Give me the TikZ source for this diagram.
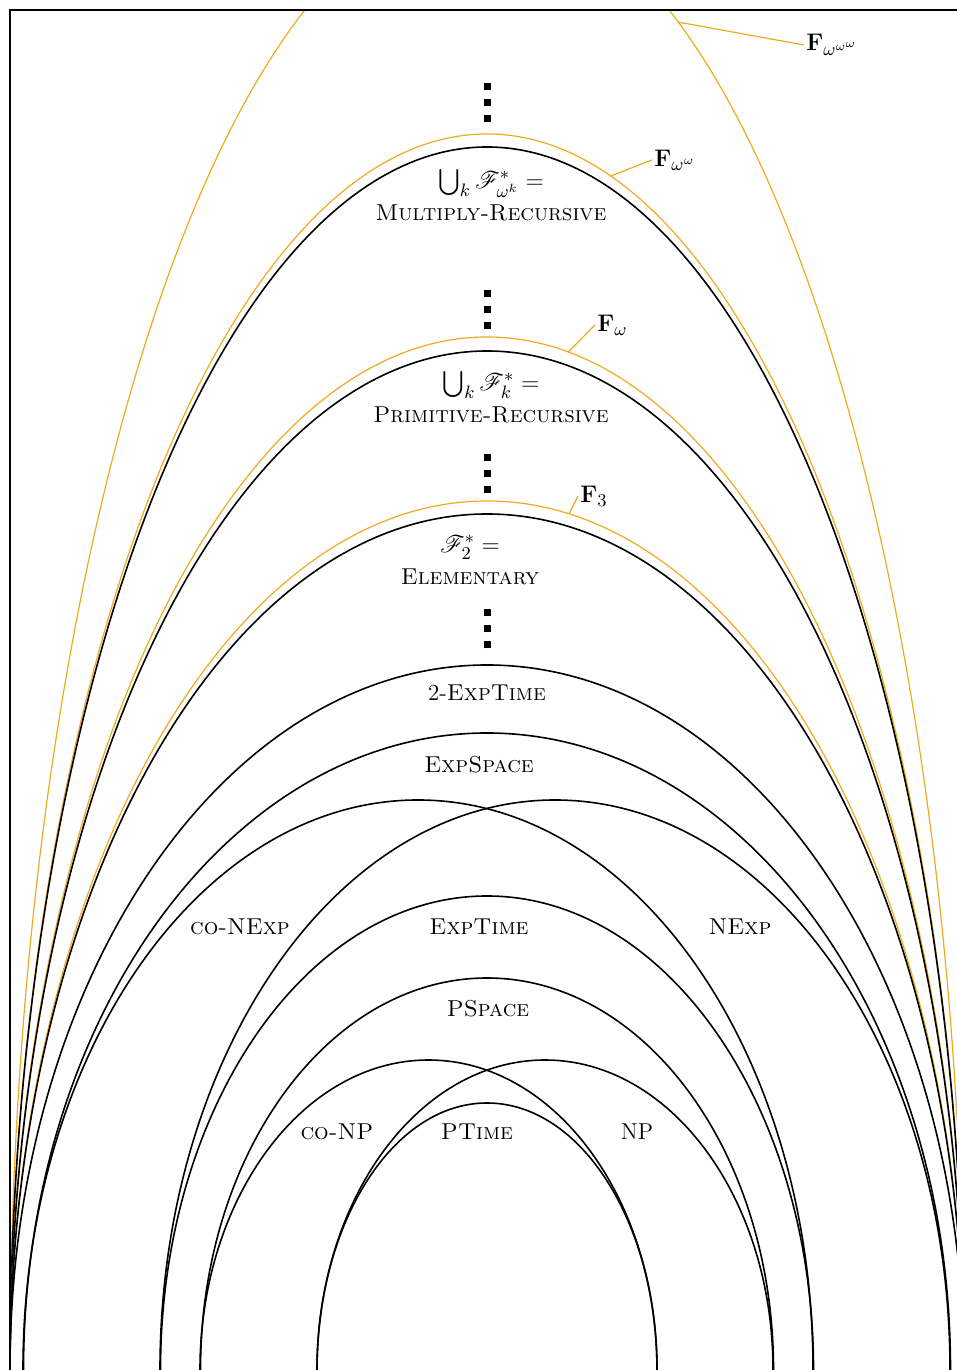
\documentclass[tikz,border=0pt]{standalone}
\usepackage{amsmath,amssymb}
\usepackage{mathrsfs}
\usetikzlibrary{calc}
\definecolor{fgold}{RGB}{240,170,30}
\newcommand{\sqdots}{\rule{3.5pt}{3.5pt}\\\rule{3.5pt}{3.5pt}\\\rule{3.5pt}{3.5pt}}
\newcommand{\bigmath}[1]{{\fontsize{13}{16}\selectfont$#1$}}
\begin{document}
\begin{tikzpicture}[x=0.5pt,y=0.5pt,
  cls/.style={line width=0.8pt},
  fcls/.style={fgold,line width=0.6pt},
  lbl/.style={align=center,inner sep=1pt,font=\fontsize{11.5}{16}\selectfont},
  flbl/.style={anchor=west,inner sep=1pt,font=\fontsize{12.5}{14}\selectfont},
  dotcol/.style={align=center,inner sep=0pt,font=\fontsize{8}{8}\selectfont}]
\useasboundingbox (0,0) rectangle (957,1370);
\coordinate (o) at (487,0);
\coordinate (conp) at (428.5,0);
\coordinate (np) at (545,0);
\coordinate (conexp) at (418,0);
\coordinate (nexp) at (555,0);
\begin{scope}
\clip (10,0) rectangle (957,1360);
\draw[fcls] (o) ellipse [x radius=477, y radius=1471];
\draw[fcls] (o) ellipse [x radius=477, y radius=1236];
\draw[cls] (o) ellipse [x radius=477, y radius=1223];
\draw[fcls] (o) ellipse [x radius=477, y radius=1033];
\draw[cls] (o) ellipse [x radius=477, y radius=1019];
\draw[fcls] (o) ellipse [x radius=477, y radius=869];
\draw[cls] (o) ellipse [x radius=477, y radius=856];
\draw[cls] (o) ellipse [x radius=477, y radius=705];
\draw[cls] (o) ellipse [x radius=463.5, y radius=637];
\draw[cls] (conexp) ellipse [x radius=395, y radius=570];
\draw[cls] (nexp) ellipse [x radius=395, y radius=570];
\draw[cls] (o) ellipse [x radius=326.5, y radius=474];
\draw[cls] (o) ellipse [x radius=286.5, y radius=392];
\draw[cls] (conp) ellipse [x radius=228.5, y radius=310];
\draw[cls] (np) ellipse [x radius=228, y radius=310];
\draw[cls] (o) ellipse [x radius=170, y radius=267];
\end{scope}
\draw[line width=0.8pt] (10,0) -- (10,1360) -- (957,1360);

\node[dotcol] (dots1) at (487,1267) {\sqdots};
\node[dotcol] (dots2) at (487,1060) {\sqdots};
\node[dotcol] (dots3) at (487,896) {\sqdots};
\node[dotcol] (dots4) at (487,741) {\sqdots};

\node[lbl] (mr) at (491,1175) {\bigmath{\bigcup_k \mathscr{F}^*_{\omega^k} =}\\\textsc{Multiply-Recursive}};
\node[lbl] (pr) at (491,973) {\bigmath{\bigcup_k \mathscr{F}^*_k =}\\\textsc{Primitive-Recursive}};
\node[lbl] (elem) at (470,810) {\bigmath{\mathscr{F}^*_2 =}\\\textsc{Elementary}};
\node[lbl] (twoexptime) at (487,677) {2-\textsc{ExpTime}};
\node[lbl] (expspace) at (479,605) {\textsc{ExpSpace}};
\node[lbl] (conexplbl) at (240,443) {\textsc{co-NExp}};
\node[lbl] (exptime) at (479,443) {\textsc{ExpTime}};
\node[lbl] (nexplbl) at (740,443) {\textsc{NExp}};
\node[lbl] (pspace) at (488,361) {\textsc{PSpace}};
\node[lbl] (conplbl) at (337,238) {\textsc{co-NP}};
\node[lbl] (ptime) at (477,238) {\textsc{PTime}};
\node[lbl] (nplbl) at (637,238) {NP};

\node[flbl] (fwww) at (804,1325) {$\mathbf{F}_{\omega^{\omega^\omega}}$};
\node[flbl] (fww) at (652,1210) {$\mathbf{F}_{\omega^\omega}$};
\node[flbl] (fw) at (595,1045) {$\mathbf{F}_{\omega}$};
\node[flbl] (fthree) at (578,874) {$\mathbf{F}_{3}$};
\coordinate (pwww) at ($(o)+(66.4:477 and 1471)$);
\coordinate (pww) at ($(o)+(75:477 and 1236)$);
\coordinate (pw) at ($(o)+(80.2:477 and 1033)$);
\coordinate (pthree) at ($(o)+(80.1:477 and 869)$);
\draw[fcls] (pwww) -- (fwww.west);
\draw[fcls] (pww) -- (fww.west);
\draw[fcls] (pw) -- (fw.west);
\draw[fcls] (pthree) -- (fthree.west);
\end{tikzpicture}
\end{document}
